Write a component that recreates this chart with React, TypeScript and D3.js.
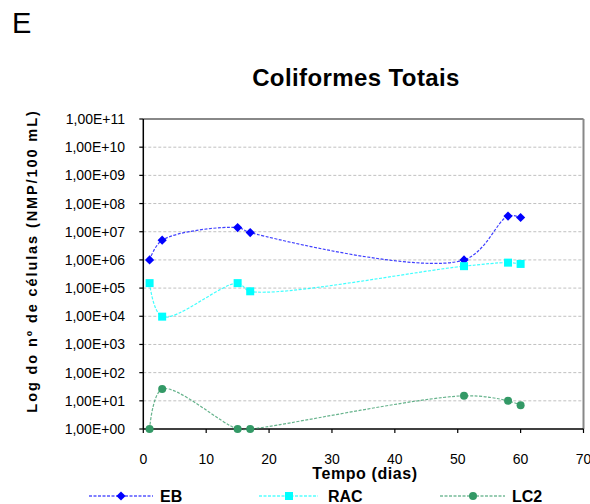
import React from "react";
import * as d3 from "d3";

const days = [1, 3, 15, 17, 51, 58, 60];
const seriesNames = ["EB", "RAC", "LC2"];
const ebValues = [1.0e6, 5.0e6, 1.4e7, 9.3e6, 1.0e6, 3.6e7, 3.2e7];
const racValues = [1.5e5, 9.7e3, 1.5e5, 7.7e4, 6.0e5, 8.0e5, 7.2e5];
const lc2Values = [1, 26, 1, 1, 15, 10, 7];
const yTickValues = [1, 1e1, 1e2, 1e3, 1e4, 1e5, 1e6, 1e7, 1e8, 1e9, 1e10, 1e11];
const yTickLabels = [
  "1,00E+00", "1,00E+01", "1,00E+02", "1,00E+03", "1,00E+04", "1,00E+05",
  "1,00E+06", "1,00E+07", "1,00E+08", "1,00E+09", "1,00E+10", "1,00E+11",
];
const xTickValues = [0, 10, 20, 30, 40, 50, 60, 70];
const xTickLabels = ["0", "10", "20", "30", "40", "50", "60", "70"];

const FONT = "'Liberation Sans', Arial, sans-serif";

const colors: Record<string, string> = { EB: "#0000FF", RAC: "#00FFFF", LC2: "#339966" };

function Marker({ name, x, y }: { name: string; x: number; y: number }) {
  const c = colors[name];
  if (name === "EB") {
    const r = 4.6;
    return <path d={`M${x},${y - r}L${x + r},${y}L${x},${y + r}L${x - r},${y}Z`} fill={c} />;
  }
  if (name === "RAC") {
    const s = 8;
    return <rect x={x - s / 2} y={y - s / 2} width={s} height={s} fill={c} />;
  }
  return <circle cx={x} cy={y} r={4} fill={c} />;
}

export default function App() {
  const W = 590;
  const H = 504;
  const x = d3.scaleLinear().domain([0, 70]).range([143.3, 583.5]);
  const y = d3.scaleLog().domain([1, 1e11]).range([429, 119]);

  const series = [
    { name: "EB", values: ebValues },
    { name: "RAC", values: racValues },
    { name: "LC2", values: lc2Values },
  ];

  const line = d3
    .line<[number, number]>()
    .x((d) => x(d[0]))
    .y((d) => y(d[1]))
    .curve(d3.curveCatmullRom.alpha(0.5));

  const legendItems = [
    { name: seriesNames[0], x1: 89, x2: 153, mx: 121, tx: 160 },
    { name: seriesNames[1], x1: 259, x2: 318, mx: 289, tx: 328 },
    { name: seriesNames[2], x1: 440, x2: 505, mx: 473, tx: 512 },
  ];

  return (
    <svg
      width={W}
      height={H}
      style={{ position: "absolute", left: 0, top: 0, background: "#fff" }}
      fontFamily={FONT}
    >
      <rect x={0} y={0} width={W} height={H} fill="#fff" />
      <text x={12} y={33} fontSize={29} fill="#000">E</text>
      <text x={356} y={86} fontSize={24} fontWeight="bold" textAnchor="middle" letterSpacing={0.4}>
        Coliformes Totais
      </text>

      {/* gridlines */}
      {yTickValues.slice(1, -1).map((v, i) => (
        <line
          key={"g" + i}
          x1={x(0)}
          x2={x(70)}
          y1={y(v)}
          y2={y(v)}
          stroke="#c0c0c0"
          strokeWidth={1}
          strokeDasharray="3,2"
        />
      ))}

      {/* plot border top/right */}
      <line x1={x(0)} x2={x(70)} y1={y(1e11)} y2={y(1e11)} stroke="#888" strokeWidth={2} />
      <line x1={x(70)} x2={x(70)} y1={y(1e11)} y2={y(1)} stroke="#888" strokeWidth={2} />

      {/* axes */}
      <line x1={x(0)} x2={x(0)} y1={y(1e11)} y2={y(1)} stroke="#000" strokeWidth={1.5} />
      <line x1={x(0)} x2={x(70)} y1={y(1)} y2={y(1)} stroke="#000" strokeWidth={1.5} />

      {yTickValues.map((v, i) => (
        <g key={"yt" + i}>
          <line x1={x(0) - 4} x2={x(0)} y1={y(v)} y2={y(v)} stroke="#000" strokeWidth={1.2} />
          <text
            x={125}
            y={y(v)}
            dy="0.36em"
            fontSize={14}
            textAnchor="end"
            fill="#000"
          >
            {yTickLabels[i]}
          </text>
        </g>
      ))}

      {xTickValues.map((v, i) => (
        <g key={"xt" + i}>
          <line x1={x(v)} x2={x(v)} y1={y(1)} y2={y(1) + 4} stroke="#000" strokeWidth={1.2} />
          <text x={x(v)} y={464} fontSize={14} textAnchor="middle" fill="#000">
            {xTickLabels[i]}
          </text>
        </g>
      ))}

      <text
        x={365}
        y={479}
        fontSize={16}
        fontWeight="bold"
        textAnchor="middle"
        letterSpacing={0.6}
      >
        Tempo (dias)
      </text>

      <text
        transform="translate(37,261) rotate(-90)"
        fontSize={14.5}
        fontWeight="bold"
        textAnchor="middle"
        letterSpacing={1.9}
      >
        Log do nº de células (NMP/100 mL)
      </text>

      {/* series */}
      {series.map((s) => {
        const pts: [number, number][] = days.map((d, i) => [d, s.values[i]]);
        return (
          <g key={s.name}>
            <path
              d={line(pts) || ""}
              fill="none"
              stroke={colors[s.name]}
              strokeWidth={1.2}
              strokeDasharray="3,1.5"
              opacity={0.75}
            />
            {pts.map((p, i) => (
              <Marker key={i} name={s.name} x={x(p[0])} y={y(p[1])} />
            ))}
          </g>
        );
      })}

      {/* legend */}
      {legendItems.map((l) => (
        <g key={l.name}>
          <line
            x1={l.x1}
            x2={l.x2}
            y1={496}
            y2={496}
            stroke={colors[l.name]}
            strokeWidth={1.2}
            strokeDasharray="3,1.5"
          />
          <Marker name={l.name} x={l.mx} y={496} />
          <text x={l.tx} y={502} fontSize={16} fontWeight="bold" fill="#000">
            {l.name}
          </text>
        </g>
      ))}
    </svg>
  );
}
